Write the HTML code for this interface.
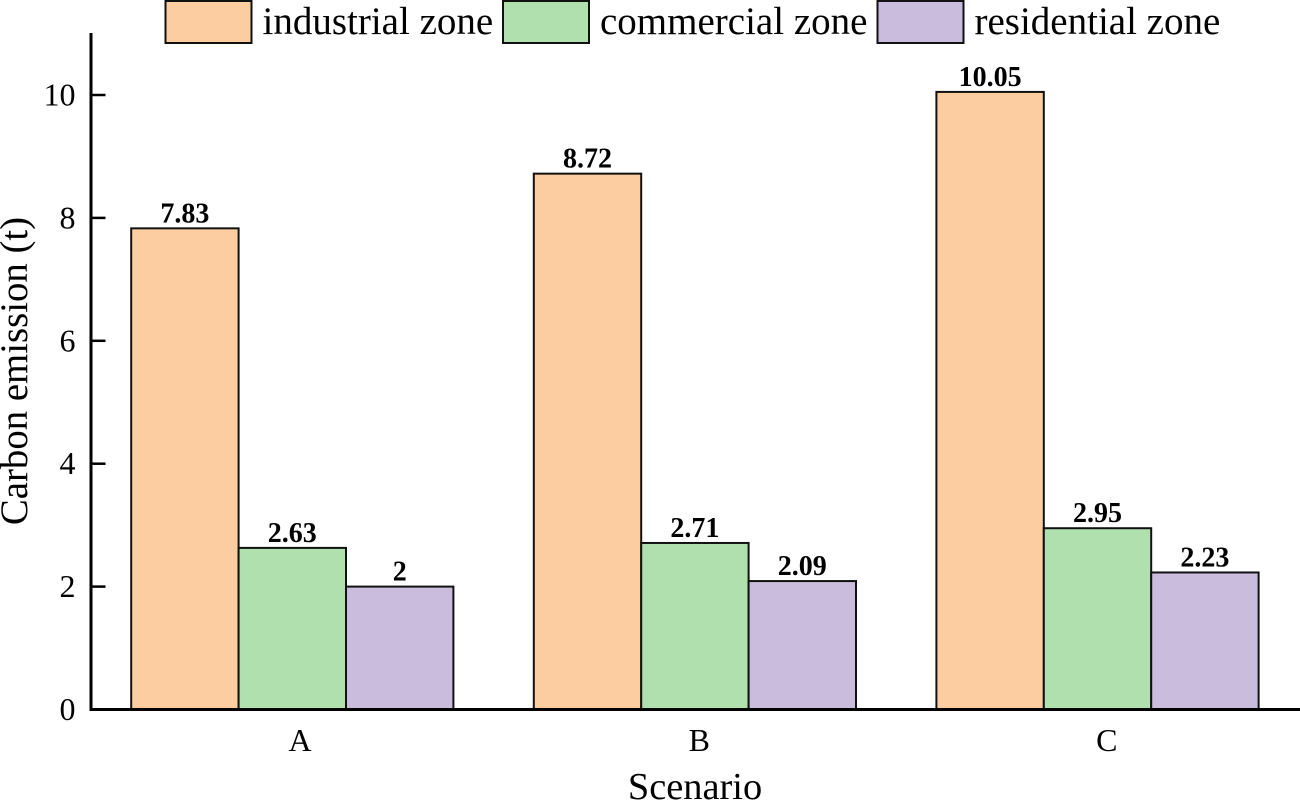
<!DOCTYPE html>
<html>
<head>
<meta charset="utf-8">
<title>Carbon emission by scenario</title>
<style>
html,body{margin:0;padding:0;background:#fff;}
svg{display:block;font-family:"Liberation Serif","Times New Roman",serif;fill:#000;}
</style>
</head>
<body>
<svg id="chart" xmlns="http://www.w3.org/2000/svg" width="1300" height="800" viewBox="0 0 1300 800"></svg>
<script>
const categories = ['A', 'B', 'C'];
const seriesNames = ['industrial zone', 'commercial zone', 'residential zone'];
const seriesColors = ['#FCCDA0', '#B0E0AE', '#CABCDD'];
const industrialValues = [7.83, 8.72, 10.05];
const commercialValues = [2.63, 2.71, 2.95];
const residentialValues = [2, 2.09, 2.23];
const yTicks = [0, 2, 4, 6, 8, 10];

const allSeries = [industrialValues, commercialValues, residentialValues];
const svg = document.getElementById('chart');
const NS = 'http://www.w3.org/2000/svg';

function yScale(v) { return 709.5 - v * 61.45; }
function xCenter(i) { return 292.3 + i * 402.6; }
const barWidth = 107.4;

function make(tag, attrs, text) {
  const el = document.createElementNS(NS, tag);
  for (const k in attrs) el.setAttribute(k, attrs[k]);
  if (text !== undefined) el.textContent = text;
  svg.appendChild(el);
  return el;
}

// bars and value labels
allSeries.forEach(function (vals, s) {
  vals.forEach(function (v, i) {
    const x = xCenter(i) + (s - 1.5) * barWidth;
    const top = yScale(v);
    const bar = make('rect', { x: x, y: top, width: barWidth, height: yScale(0) - top, fill: seriesColors[s], stroke: '#111', 'stroke-width': 2 });
    
    
    const label = make('text', { x: x + barWidth / 2, y: top - 6, 'text-anchor': 'middle', 'font-size': 28, 'font-weight': 'bold' }, String(v));
    
    
  });
});

// axes
const yAxis = make('line', { x1: 91, y1: 33, x2: 91, y2: 711, stroke: '#000', 'stroke-width': 3 });


const xAxis = make('line', { x1: 89.5, y1: 709.5, x2: 1300, y2: 709.5, stroke: '#000', 'stroke-width': 3 });



yTicks.forEach(function (t) {
  if (t !== 0) {
    const tick = make('line', { x1: 91, y1: yScale(t), x2: 105.5, y2: yScale(t), stroke: '#000', 'stroke-width': 2.5 });
    
    
  }
  const lab = make('text', { x: 75.5, y: yScale(t) + 10.5, 'text-anchor': 'end', 'font-size': 32 }, String(t));
  
  
});

// x tick labels sit slightly right of each group centre in the reference
const xLabelNudge = [7.7, 4.4, 9.3];
categories.forEach(function (c, i) {
  const lab = make('text', { x: xCenter(i) + xLabelNudge[i], y: 751, 'text-anchor': 'middle', 'font-size': 32 }, c);
  
  
});

const xTitle = make('text', { x: 695, y: 799, 'text-anchor': 'middle', 'font-size': 38.4 }, 'Scenario');



const yTitle = make('text', { x: 0, y: 0, 'text-anchor': 'middle', 'font-size': 38.8, transform: 'translate(27,371) rotate(-90)' }, 'Carbon emission (t)');



// legend
const legendStarts = [165.5, 503, 877.5];
seriesNames.forEach(function (name, s) {
  const swatch = make('rect', { x: legendStarts[s], y: 1, width: 86, height: 42, fill: seriesColors[s], stroke: '#111', 'stroke-width': 2 });
  
  
  const text = make('text', { x: legendStarts[s] + 97, y: 34, 'font-size': 39 }, name);
  
  
});
</script>
</body>
</html>
